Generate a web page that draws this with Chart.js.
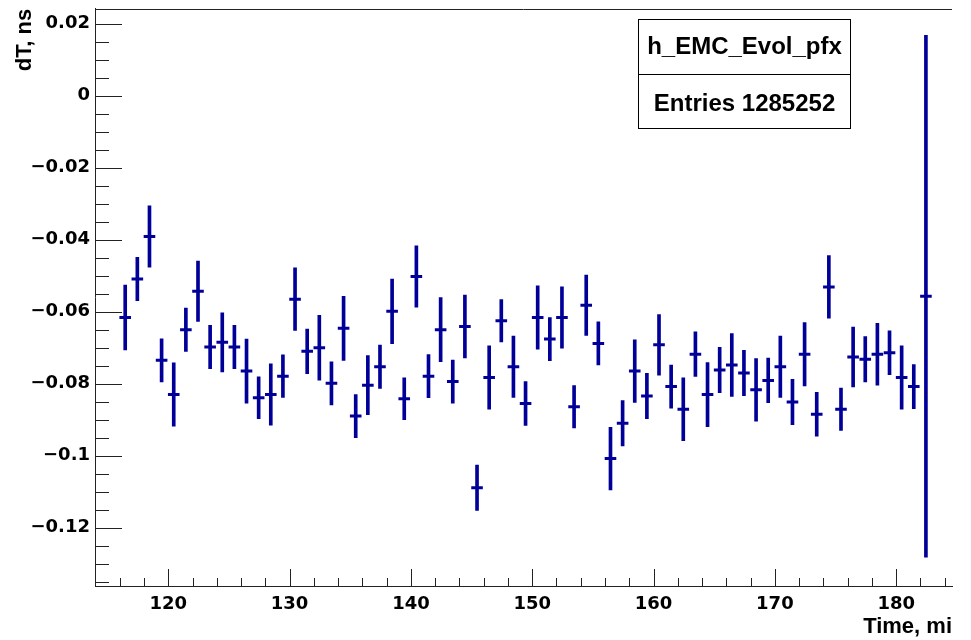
<!DOCTYPE html>
<html>
<head>
<meta charset="utf-8">
<script src="https://cdn.jsdelivr.net/npm/chart.js@4.4.0/dist/chart.umd.min.js"></script>
<style>
html,body{margin:0;padding:0;background:#fff;}
#wrap{width:971px;height:640px;position:relative;}
</style>
</head>
<body>
<div id="wrap"><canvas id="c" width="971" height="640"></canvas></div>
<script>
// ---- data ----
const binCenters = [116.45,117.45,118.45,119.45,120.45,121.45,122.45,123.45,124.45,125.45,
  126.45,127.45,128.45,129.45,130.45,131.45,132.45,133.45,134.45,135.45,
  136.45,137.45,138.45,139.45,140.45,141.45,142.45,143.45,144.45,145.45,
  146.45,147.45,148.45,149.45,150.45,151.45,152.45,153.45,154.45,155.45,
  156.45,157.45,158.45,159.45,160.45,161.45,162.45,163.45,164.45,165.45,
  166.45,167.45,168.45,169.45,170.45,171.45,172.45,173.45,174.45,175.45,
  176.45,177.45,178.45,179.45,180.45,181.45,182.45];
const means = [-0.0616,-0.0509,-0.0391,-0.0735,-0.0830,-0.0650,-0.0543,-0.0698,-0.0685,-0.0698,
  -0.0765,-0.0839,-0.0830,-0.0779,-0.0565,-0.0710,-0.0700,-0.0799,-0.0646,-0.0890,
  -0.0804,-0.0753,-0.0599,-0.0842,-0.0502,-0.0779,-0.0650,-0.0794,-0.0641,-0.1089,
  -0.0783,-0.0625,-0.0753,-0.0855,-0.0616,-0.0676,-0.0616,-0.0864,-0.0582,-0.0688,
  -0.1008,-0.0910,-0.0765,-0.0834,-0.0692,-0.0808,-0.0871,-0.0718,-0.0830,-0.0762,
  -0.0748,-0.0770,-0.0817,-0.0791,-0.0753,-0.0851,-0.0718,-0.0885,-0.0531,-0.0871,
  -0.0726,-0.0732,-0.0718,-0.0714,-0.0783,-0.0808,-0.0557];
const errors = [0.0090,0.0060,0.0085,0.0060,0.0088,0.0060,0.0084,0.0060,0.0082,0.0060,
  0.0089,0.0058,0.0085,0.0059,0.0087,0.0062,0.0090,0.0060,0.0089,0.0060,
  0.0082,0.0060,0.0090,0.0058,0.0085,0.0060,0.0089,0.0060,0.0087,0.0063,
  0.0088,0.0059,0.0085,0.0061,0.0088,0.0060,0.0085,0.0059,0.0084,0.0060,
  0.0087,0.0063,0.0087,0.0063,0.0084,0.0060,0.0087,0.0062,0.0089,0.0063,
  0.0087,0.0063,0.0087,0.0062,0.0085,0.0063,0.0088,0.0061,0.0087,0.0059,
  0.0083,0.0063,0.0086,0.0061,0.0088,0.0061,0.0725];
const xTickValues = [120,130,140,150,160,170,180];
const xTickLabels = ['120','130','140','150','160','170','180'];
const yTickValues = [-0.12,-0.1,-0.08,-0.06,-0.04,-0.02,0,0.02];
const yTickLabels = ['\u22120.12','\u22120.1','\u22120.08','\u22120.06','\u22120.04','\u22120.02','0','0.02'];
const histName = 'h_EMC_Evol_pfx';
const entriesText = 'Entries 1285252';
const xTitle = 'Time, mi';
const yTitle = 'dT, ns';

// ---- styling ----
const MARK = '#000099';
const AXIS = '#222222';
const X_MIN = 113.96, X_MAX = 184.6;
const Y_MIN = -0.1362, Y_MAX = 0.02416;

const errBars = binCenters.map((x, i) => ({x: x, y: [means[i] - errors[i], means[i] + errors[i]]}));
const centers = binCenters.map((x, i) => ({x: x, y: means[i]}));

function labelFor(values, labels, v) {
  for (let k = 0; k < values.length; k++) if (Math.abs(values[k] - v) < 1e-9) return labels[k];
  return '';
}

const rootAxes = {
  id: 'rootAxes',
  beforeDatasetsDraw(chart) {
    const {ctx, chartArea: a, scales: {x, y}} = chart;
    ctx.save();
    ctx.strokeStyle = AXIS;
    ctx.lineWidth = 1;
    // top frame line
    ctx.beginPath();
    ctx.moveTo(a.left, Math.round(a.top) + 0.5);
    ctx.lineTo(a.right, Math.round(a.top) + 0.5);
    ctx.stroke();
    ctx.beginPath();
    ctx.rect(a.left, a.top, a.right - a.left, a.bottom - a.top);
    ctx.clip();
    ctx.beginPath();
    // y ticks (inward)
    for (let k = -27; k <= 4; k++) {
      const v = k * 0.005;
      if (v < Y_MIN || v > Y_MAX) continue;
      const len = (k % 4 === 0) ? 27 : 14;
      const py = Math.round(y.getPixelForValue(v)) + 0.5;
      ctx.moveTo(a.left, py);
      ctx.lineTo(a.left + len, py);
    }
    // x ticks (inward)
    for (let t = 114; t <= 184; t += 2) {
      if (t < X_MIN || t > X_MAX) continue;
      const len = (t % 10 === 0) ? 17 : 8;
      const px = Math.round(x.getPixelForValue(t)) + 0.5;
      ctx.moveTo(px, a.bottom);
      ctx.lineTo(px, a.bottom - len);
    }
    ctx.stroke();
    ctx.restore();
  },
  afterDraw(chart) {
    const ctx = chart.ctx;
    ctx.save();
    ctx.strokeStyle = '#000';
    ctx.lineWidth = 1;
    ctx.fillStyle = '#fff';
    ctx.fillRect(638.5, 19.5, 212, 109);
    ctx.strokeRect(638.5, 19.5, 212, 109);
    ctx.beginPath();
    ctx.moveTo(638.5, 74.5);
    ctx.lineTo(850.5, 74.5);
    ctx.stroke();
    ctx.fillStyle = '#000';
    ctx.font = 'bold 24px "Liberation Sans"';
    ctx.textAlign = 'center';
    ctx.textBaseline = 'alphabetic';
    ctx.fillText(histName, 744.5, 53.5);
    ctx.fillText(entriesText, 744.5, 110.5);
    ctx.restore();
  }
};

new Chart(document.getElementById('c').getContext('2d'), {
  type: 'scatter',
  data: {
    datasets: [
      {
        type: 'bar',
        data: errBars,
        backgroundColor: MARK,
        borderWidth: 0,
        barThickness: 3,
        grouped: false,
        order: 2
      },
      {
        type: 'scatter',
        data: centers,
        pointStyle: 'line',
        pointRadius: 5.8,
        pointHoverRadius: 5.8,
        borderColor: MARK,
        backgroundColor: MARK,
        pointBorderWidth: 3,
        borderWidth: 3,
        order: 1
      }
    ]
  },
  options: {
    responsive: false,
    animation: false,
    events: [],
    layout: {padding: {left: 0, right: 19, top: 8, bottom: 0}},
    plugins: {legend: {display: false}, tooltip: {enabled: false}, title: {display: false}},
    scales: {
      x: {
        type: 'linear',
        min: X_MIN,
        max: X_MAX,
        offset: false,
        grid: {display: false, drawTicks: false},
        border: {display: true, color: AXIS, width: 1},
        afterBuildTicks: s => { s.ticks = xTickValues.map(v => ({value: v})); },
        afterFit: s => { s.height = 54; s.paddingLeft = 0; s.paddingRight = 0; s.paddingTop = 0; s.paddingBottom = 0; },
        ticks: {
          autoSkip: false, maxRotation: 0, minRotation: 0, padding: 8, color: '#000',
          font: {family: 'DejaVu Sans', weight: 'bold', size: 18},
          callback: v => labelFor(xTickValues, xTickLabels, v)
        },
        title: {
          display: true, text: xTitle, align: 'end', color: '#000',
          font: {family: 'Liberation Sans', weight: 'bold', size: 22},
          padding: {top: 0, bottom: 0}
        }
      },
      y: {
        type: 'linear',
        min: Y_MIN,
        max: Y_MAX,
        grid: {display: false, drawTicks: false},
        border: {display: true, color: AXIS, width: 1},
        afterBuildTicks: s => { s.ticks = yTickValues.map(v => ({value: v})); },
        afterFit: s => { s.width = 95; s.paddingLeft = 0; s.paddingRight = 0; s.paddingTop = 0; s.paddingBottom = 0; },
        ticks: {
          autoSkip: false, padding: 5, color: '#000',
          font: {family: 'DejaVu Sans', weight: 'bold', size: 18},
          callback: v => labelFor(yTickValues, yTickLabels, v)
        },
        title: {
          display: true, text: yTitle, align: 'end', color: '#000',
          font: {family: 'Liberation Sans', weight: 'bold', size: 22},
          padding: {top: 12, bottom: 0}
        }
      }
    }
  },
  plugins: [rootAxes]
});
</script>
</body>
</html>
